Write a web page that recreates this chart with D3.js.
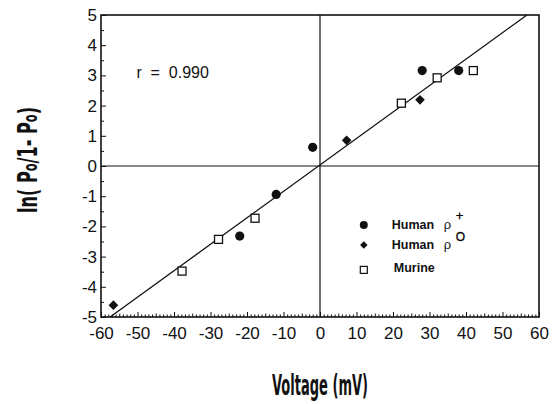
<!DOCTYPE html>
<html>
<head>
<meta charset="utf-8">
<script src="https://cdn.jsdelivr.net/npm/d3@7"></script>
<style>
  body { margin: 0; background: #fff; }
  svg { display: block; }
  .tick text { font-family: "Liberation Sans", Arial, sans-serif; fill: #111; }
</style>
</head>
<body>
<div id="chart"></div>
<script>
// DATA
const humanPlusX = [-22, -12, -2, 28, 38];
const humanPlusY = [-2.32, -0.94, 0.62, 3.16, 3.16];
const humanZeroX = [-56.6, 7.3, 27.4];
const humanZeroY = [-4.61, 0.85, 2.19];
const murineX = [-37.8, -27.8, -17.8, 22.3, 32.1, 42.0];
const murineY = [-3.48, -2.43, -1.73, 2.08, 2.92, 3.16];
const fitX = [-57.5, 56.7];
const fitY = [-5, 5];
const xTicks = [-60, -50, -40, -30, -20, -10, 0, 10, 20, 30, 40, 50, 60];
const yTicks = [-5, -4, -3, -2, -1, 0, 1, 2, 3, 4, 5];
const legendLabels = ["Human", "Human", "Murine"];
const legendSup = ["+", "O", ""];

// SIZES
const w = 552;
const h = 404;
const margin = { top: 15, right: 13, bottom: 87, left: 101 };
const iw = w - margin.left - margin.right;
const ih = h - margin.top - margin.bottom;

const svg = d3.select("#chart").append("svg").attr("width", w).attr("height", h);
const g = svg.append("g").attr("transform", "translate(" + margin.left + "," + margin.top + ")");

const x = d3.scaleLinear().domain([-60, 60]).range([0, iw]);
const y = d3.scaleLinear().domain([-5, 5]).range([ih, 0]);

// minor ticks
const xMinor = d3.range(-60, 61, 1).filter((d) => d % 5 !== 0);
const xMid = d3.range(-55, 60, 10);
const yMinor = d3.range(-4.5, 5, 1);

g.append("g")
  .attr("transform", "translate(0," + ih + ")")
  .call(d3.axisBottom(x).tickValues(xMinor).tickSize(-2.5).tickFormat(""))
  .call((a) => a.select(".domain").remove());
g.append("g")
  .attr("transform", "translate(0," + ih + ")")
  .call(d3.axisBottom(x).tickValues(xMid).tickSize(-3.5).tickFormat(""))
  .call((a) => a.select(".domain").remove());
g.append("g")
  .call(d3.axisLeft(y).tickValues(yMinor).tickSize(-3).tickFormat(""))
  .call((a) => a.select(".domain").remove());

// major axes
const xAxis = g.append("g")
  .attr("transform", "translate(0," + ih + ")")
  .call(d3.axisBottom(x).tickValues(xTicks).tickSize(-5).tickPadding(10).tickFormat((d) => String(d)));
xAxis.selectAll("text").style("font-size", "17px");
xAxis.select(".domain").remove();

const yAxis = g.append("g")
  .call(d3.axisLeft(y).tickValues(yTicks).tickSize(-5).tickPadding(4).tickFormat((d) => String(d)));
yAxis.selectAll("text").style("font-size", "17px");
yAxis.select(".domain").remove();

g.selectAll(".tick line").attr("stroke", "#111").attr("stroke-width", 1);

// frame and zero lines
g.append("rect")
  .attr("width", iw).attr("height", ih)
  .attr("fill", "none").attr("stroke", "#111").attr("stroke-width", 1.6);
g.append("line")
  .attr("x1", x(0)).attr("x2", x(0)).attr("y1", 0).attr("y2", ih)
  .attr("stroke", "#111").attr("stroke-width", 1.2);
g.append("line")
  .attr("x1", 0).attr("x2", iw).attr("y1", y(0)).attr("y2", y(0))
  .attr("stroke", "#111").attr("stroke-width", 1.2);

// fit line
g.append("line")
  .attr("x1", x(fitX[0])).attr("y1", y(fitY[0]))
  .attr("x2", x(fitX[1])).attr("y2", y(fitY[1]))
  .attr("stroke", "#111").attr("stroke-width", 1.3);

// points
const circ = d3.zip(humanPlusX, humanPlusY);
const diam = d3.zip(humanZeroX, humanZeroY);
const squr = d3.zip(murineX, murineY);

g.selectAll(".hp").data(circ).enter().append("circle")
  .attr("cx", (d) => x(d[0])).attr("cy", (d) => y(d[1]))
  .attr("r", 4.6).attr("fill", "#111");

g.selectAll(".hz").data(diam).enter().append("path")
  .attr("d", d3.symbol().type(d3.symbolDiamond2).size(60))
  .attr("transform", (d) => "translate(" + x(d[0]) + "," + y(d[1]) + ")")
  .attr("fill", "#111");

g.selectAll(".mu").data(squr).enter().append("rect")
  .attr("x", (d) => x(d[0]) - 4).attr("y", (d) => y(d[1]) - 4)
  .attr("width", 8).attr("height", 8)
  .attr("fill", "#fff").attr("stroke", "#111").attr("stroke-width", 1.3);

// r text
g.append("text")
  .attr("x", x(-50.3)).attr("y", y(2.92))
  .style("font-family", "'Liberation Sans', Arial, sans-serif")
  .style("font-size", "16px")
  .style("white-space", "pre")
  .attr("fill", "#111")
  .text("r  =  0.990");

// LEGEND
const legend = g.append("g").attr("transform", "translate(" + x(12) + "," + y(-1.95) + ")");
const rowH = 20;
legend.append("circle").attr("cx", 0).attr("cy", 0).attr("r", 4).attr("fill", "#111");
legend.append("path")
  .attr("d", d3.symbol().type(d3.symbolDiamond2).size(36))
  .attr("transform", "translate(0," + rowH + ")").attr("fill", "#111");
legend.append("rect").attr("x", -3.5).attr("y", 2 * rowH + 1.5).attr("width", 7).attr("height", 7)
  .attr("fill", "#fff").attr("stroke", "#111").attr("stroke-width", 1.2);

legendLabels.forEach((lab, i) => {
  const row = legend.append("g").attr("transform", "translate(0," + (i * rowH + (i === 2 ? 3 : 0)) + ")");
  row.append("text")
    .attr("x", i === 2 ? 30 : 28).attr("y", 4)
    .style("font-family", "'Liberation Sans', Arial, sans-serif")
    .style("font-size", "12.5px").style("font-weight", "bold")
    .attr("fill", "#111")
    .text(lab);
  if (i < 2) {
    row.append("text")
      .attr("x", 80).attr("y", 4)
      .style("font-family", "'Liberation Sans', Arial, sans-serif")
      .style("font-size", "13px")
      .attr("fill", "#111")
      .text("\u03C1");
    row.append("text")
      .attr("x", 92).attr("y", i === 0 ? -5 : -4)
      .style("font-family", "'Liberation Sans', Arial, sans-serif")
      .style("font-size", i === 0 ? "13px" : "12px")
      .attr("fill", "#000")
      .attr("stroke", "#000").attr("stroke-width", 0.3)
      .text(legendSup[i]);
  }
});

// AXIS TITLES (condensed, bold)
svg.append("text")
  .attr("x", 272).attr("y", 395)
  .attr("textLength", 96).attr("lengthAdjust", "spacingAndGlyphs")
  .style("font-family", "'DejaVu Sans', sans-serif")
  .style("font-size", "28px").style("font-weight", "bold")
  .attr("fill", "#111")
  .text("Voltage (mV)");

const yl = svg.append("text")
  .attr("transform", "translate(37,213) rotate(-90)")
  .attr("textLength", 106).attr("lengthAdjust", "spacingAndGlyphs")
  .style("font-family", "'DejaVu Sans', sans-serif")
  .style("font-size", "27px").style("font-weight", "bold")
  .attr("fill", "#111");
yl.append("tspan").text("ln( P");
yl.append("tspan").style("font-size", "19px").text("o");
yl.append("tspan").text("/1- P");
yl.append("tspan").style("font-size", "19px").text("o");
yl.append("tspan").text(")");
</script>
</body>
</html>
